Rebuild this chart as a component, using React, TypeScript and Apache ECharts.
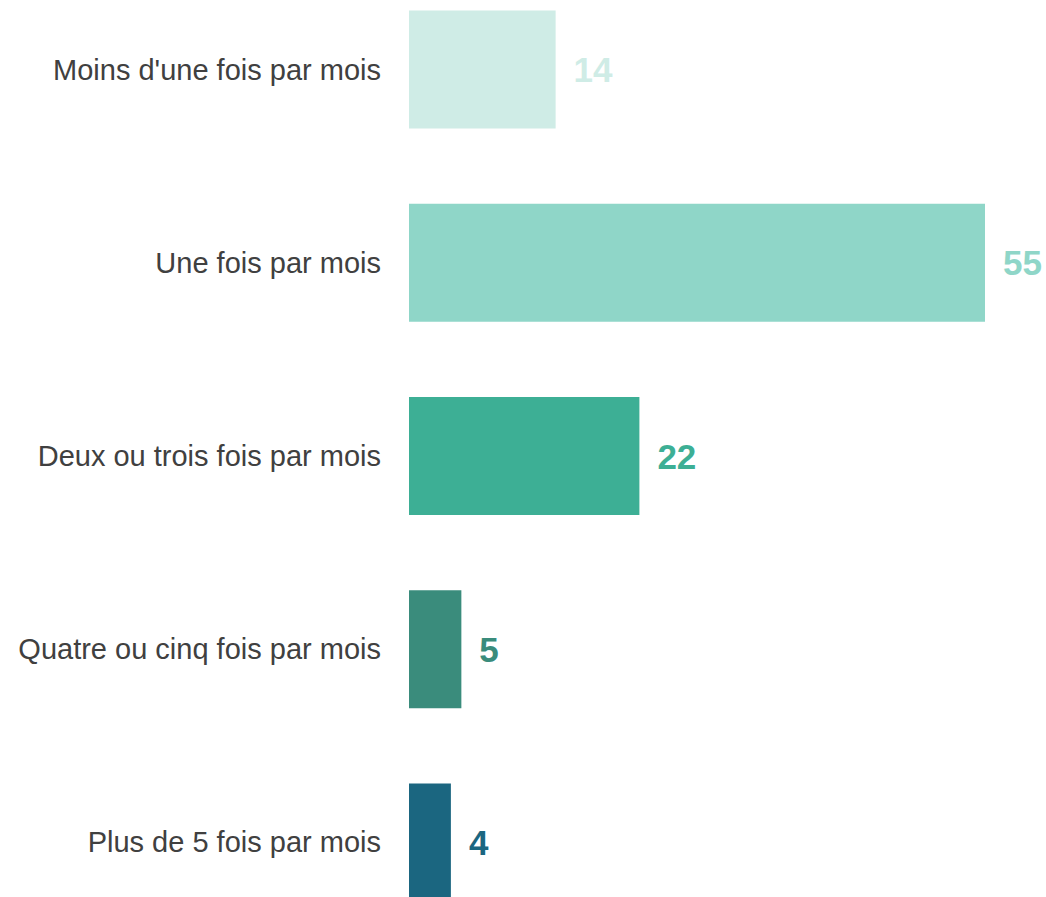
import React, { useEffect, useRef } from "react";
import * as echarts from "echarts";

const categories = [
  "Moins d'une fois par mois",
  "Une fois par mois",
  "Deux ou trois fois par mois",
  "Quatre ou cinq fois par mois",
  "Plus de 5 fois par mois",
];
const values = [14, 55, 22, 5, 4];
const colors = ["#cfece6", "#8fd6c8", "#3daf95", "#3a8c7c", "#1b6680"];

export default function App() {
  const ref = useRef<HTMLDivElement>(null);
  useEffect(() => {
    if (!ref.current) return;
    const chart = echarts.init(ref.current, undefined, { renderer: "svg" });
    chart.setOption({
      animation: false,
      backgroundColor: "#ffffff",
      grid: { left: 409, right: 61, top: 0, bottom: 0, containLabel: false },
      xAxis: {
        type: "value",
        min: 0,
        max: 55,
        show: false,
      },
      yAxis: {
        type: "category",
        data: categories,
        inverse: true,
        axisLine: { show: false },
        axisTick: { show: false },
        splitLine: { show: false },
        axisLabel: {
          margin: 28,
          fontSize: 29,
          color: "#404040",
          fontFamily: "Liberation Sans, Arial, sans-serif",
        },
      },
      series: [
        {
          type: "bar",
          barWidth: 118,
          data: values.map((v, i) => ({
            value: v,
            itemStyle: { color: colors[i] },
            label: { color: colors[i] },
          })),
          label: {
            show: true,
            position: "right",
            distance: 18,
            fontSize: 35,
            fontWeight: "bold",
            fontFamily: "Liberation Sans, Arial, sans-serif",
          },
        },
      ],
    });
    return () => chart.dispose();
  }, []);
  return (
    <div
      style={{
        position: "fixed",
        left: 0,
        top: 0,
        width: 1046,
        height: 897,
        overflow: "hidden",
        background: "#fff",
      }}
    >
      <div
        ref={ref}
        style={{ position: "absolute", left: 0, top: -27, width: 1046, height: 966 }}
      />
    </div>
  );
}
